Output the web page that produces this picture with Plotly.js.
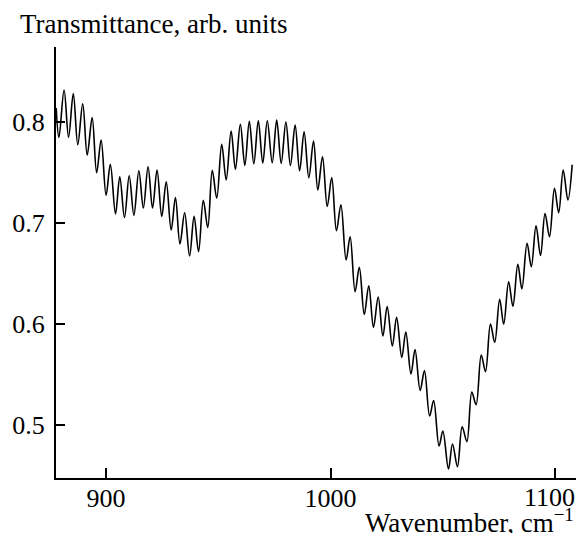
<!DOCTYPE html>
<html>
<head>
<meta charset="utf-8">
<script src="https://cdn.plot.ly/plotly-3.0.1.min.js"></script>
<style>html,body{margin:0;padding:0;background:#fff;}#chart{width:576px;height:533px;}</style>
</head>
<body>
<div id="chart"></div>
<script>
// Wavenumber (cm^-1) of each fringe extremum
const wavenumber = [877.8, 879.0, 881.3, 883.3, 885.4, 887.4, 889.6, 891.6, 893.8, 895.8,
  897.8, 900.0, 901.9, 904.2, 906.1, 908.2, 910.3, 912.4, 914.6, 916.6,
  918.7, 920.7, 922.7, 924.8, 926.8, 929.0, 930.9, 932.9, 935.0, 937.2,
  939.2, 941.2, 943.3, 945.3, 947.3, 949.3, 951.5, 953.5, 955.7, 957.6,
  959.8, 961.8, 963.8, 965.8, 967.8, 969.8, 971.8, 974.0, 976.0, 978.0,
  980.1, 982.1, 984.2, 986.2, 988.2, 990.3, 992.4, 994.3, 996.4, 998.5,
  1000.5, 1002.6, 1004.6, 1006.9, 1008.7, 1010.9, 1012.8, 1015.0, 1017.0, 1019.1,
  1021.2, 1023.3, 1025.2, 1027.5, 1029.4, 1031.7, 1033.5, 1035.8, 1037.6, 1039.9,
  1041.8, 1044.1, 1045.9, 1048.3, 1050.0, 1052.5, 1054.3, 1056.5, 1058.6, 1060.7,
  1062.9, 1064.8, 1067.1, 1069.0, 1071.2, 1073.1, 1075.3, 1077.1, 1079.3, 1081.2,
  1083.4, 1085.2, 1087.5, 1089.4, 1091.5, 1093.5, 1095.5, 1097.5, 1099.7, 1101.6,
  1103.6, 1105.7, 1107.6];
// Transmittance (arb. units) at each of those points
const transmittance = [0.8136, 0.7844, 0.8314, 0.7846, 0.8279, 0.7772, 0.8178, 0.7670, 0.8042, 0.7495,
  0.7819, 0.7271, 0.7579, 0.7088, 0.7455, 0.7051, 0.7465, 0.7073, 0.7515, 0.7146,
  0.7554, 0.7146, 0.7522, 0.7063, 0.7405, 0.6928, 0.7248, 0.6789, 0.7099, 0.6670,
  0.7063, 0.6713, 0.7222, 0.6952, 0.7519, 0.7242, 0.7776, 0.7423, 0.7908, 0.7529,
  0.7974, 0.7568, 0.8005, 0.7583, 0.8009, 0.7591, 0.8010, 0.7594, 0.8017, 0.7588,
  0.7997, 0.7566, 0.7967, 0.7514, 0.7901, 0.7446, 0.7809, 0.7324, 0.7653, 0.7160,
  0.7447, 0.6920, 0.7178, 0.6631, 0.6861, 0.6317, 0.6558, 0.6091, 0.6376, 0.5964,
  0.6264, 0.5878, 0.6170, 0.5779, 0.6063, 0.5665, 0.5918, 0.5502, 0.5745, 0.5339,
  0.5537, 0.5086, 0.5240, 0.4789, 0.4938, 0.4561, 0.4809, 0.4584, 0.4980, 0.4832,
  0.5324, 0.5197, 0.5690, 0.5525, 0.5997, 0.5814, 0.6242, 0.5995, 0.6416, 0.6172,
  0.6588, 0.6344, 0.6796, 0.6564, 0.6970, 0.6675, 0.7090, 0.6861, 0.7341, 0.7099,
  0.7522, 0.7225, 0.7574];
const xTicks = [900, 1000, 1100];
const xTickText = ['900', '1000', '1100'];
const yTicks = [0.5, 0.6, 0.7, 0.8];
const yTickText = ['0.5', '0.6', '0.7', '0.8'];
const xTitle = 'Wavenumber, cm<sup>−1</sup>';
const yTitle = 'Transmittance, arb. units';

const family = '"Liberation Serif", "Times New Roman", serif';
const tickFont = {family: family, size: 26, color: '#000'};
const titleFont = {family: family, size: 27, color: '#000'};

const trace = {
  x: wavenumber, y: transmittance, type: 'scatter', mode: 'lines',
  line: {color: '#000', width: 1.6, shape: 'spline', smoothing: 1},
  hoverinfo: 'none'
};

// the last x tick label sits against the right edge of the figure, so it is
// drawn as a right-aligned label instead of a centred axis label
const lastIdx = xTicks.length - 1;
const axisTickText = xTickText.map((t, i) => i === lastIdx ? '' : t);

const layout = {
  width: 576, height: 533,
  margin: {l: 56, r: 0, t: 47, b: 55, pad: 0},
  paper_bgcolor: '#fff', plot_bgcolor: '#fff',
  showlegend: false,
  font: tickFont,
  xaxis: {
    range: [877.7, 1109.3], tickvals: xTicks, ticktext: axisTickText,
    ticks: 'inside', ticklen: 10, tickwidth: 2, tickcolor: '#000',
    showline: true, linewidth: 2, linecolor: '#000', mirror: false,
    showgrid: false, zeroline: false, tickfont: tickFont,
    ticklabelstandoff: -4, ticklabeloverflow: 'allow'
  },
  yaxis: {
    range: [0.4472, 0.874], tickvals: yTicks, ticktext: yTickText,
    ticks: 'inside', ticklen: 9, tickwidth: 2, tickcolor: '#000',
    showline: true, linewidth: 2, linecolor: '#000', mirror: false,
    showgrid: false, zeroline: false, tickfont: tickFont,
    ticklabelstandoff: 4, ticklabeloverflow: 'allow'
  },
  annotations: [
    {text: yTitle, xref: 'paper', yref: 'paper', x: -0.0731, y: 1.0534,
     xanchor: 'left', yanchor: 'middle', showarrow: false, font: titleFont},
    {text: xTitle, xref: 'paper', yref: 'paper', x: 1.0, y: -0.144,
     xanchor: 'right', yanchor: 'bottom', showarrow: false, font: titleFont},
    {text: xTickText[lastIdx], xref: 'paper', yref: 'paper', x: 1.0, y: -0.046,
     xanchor: 'right', yanchor: 'middle', showarrow: false, font: tickFont, borderpad: 0}
  ]
};

Plotly.newPlot('chart', [trace], layout, {displayModeBar: false, staticPlot: true});
</script>
</body>
</html>
